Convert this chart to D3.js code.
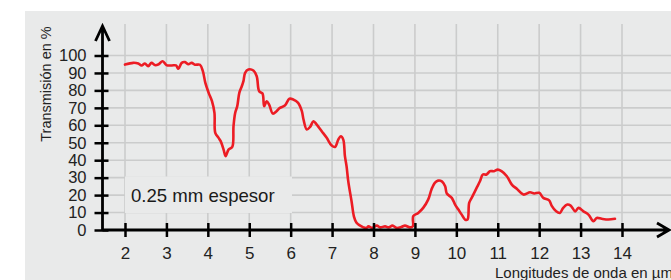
<!DOCTYPE html>
<html>
<head>
<meta charset="utf-8">
<script src="https://cdn.jsdelivr.net/npm/d3@7.9.0/dist/d3.min.js"></script>
<style>
  body { margin: 0; background: #fff; }
  svg { display: block; font-family: "Liberation Sans", Arial, sans-serif; }
</style>
</head>
<body>
<svg id="chart" width="671" height="280"></svg>
<script>
// wavelength in µm, transmission in %
const wavelength = [
  2.0, 2.2, 2.32, 2.4, 2.48, 2.56, 2.64, 2.72, 2.8, 2.91, 3.0, 3.13, 3.23, 3.29, 3.37, 3.45, 3.53, 3.61, 3.69, 3.81,
  3.88, 3.94, 4.02, 4.1, 4.16, 4.18, 4.26, 4.31, 4.38, 4.43, 4.5, 4.59, 4.62, 4.66, 4.71, 4.76, 4.82, 4.86, 4.9, 4.98,
  5.1, 5.18, 5.24, 5.32, 5.36, 5.42, 5.48, 5.57, 5.66, 5.74, 5.86, 5.97, 6.06, 6.18, 6.27, 6.31, 6.39, 6.47, 6.55, 6.63,
  6.75, 6.87, 6.99, 7.07, 7.15, 7.21, 7.27, 7.31, 7.35, 7.39, 7.47, 7.53, 7.59, 7.64, 7.71, 7.76, 7.83, 7.88, 7.96, 8.08,
  8.16, 8.28, 8.36, 8.46, 8.56, 8.68, 8.76, 8.88, 8.95, 8.96, 9.08, 9.2, 9.32, 9.4, 9.48, 9.56, 9.65, 9.73, 9.77, 9.89,
  9.97, 10.05, 10.13, 10.21, 10.27, 10.31, 10.37, 10.49, 10.57, 10.64, 10.73, 10.81, 10.91, 11.0, 11.09, 11.22, 11.34, 11.46, 11.62, 11.78,
  11.88, 12.0, 12.1, 12.24, 12.3, 12.41, 12.5, 12.58, 12.68, 12.76, 12.87, 12.95, 13.07, 13.19, 13.31, 13.39, 13.51, 13.67, 13.83
];
const transmission = [
  94.8, 95.8, 95.4, 94.3, 95.4, 93.9, 95.8, 94.5, 94.8, 96.7, 94.5, 94.3, 94.3, 92.4, 95.8, 96.2, 95.0, 95.8, 94.7, 94.7,
  91.0, 84.3, 78.6, 73.8, 67.1, 55.7, 52.8, 50.9, 46.1, 42.3, 46.1, 47.6, 59.5, 67.1, 70.9, 78.6, 82.4, 85.3, 90.1, 92.0,
  91.4, 88.1, 79.5, 78.2, 70.9, 73.8, 71.9, 66.7, 68.1, 70.0, 71.3, 75.2, 74.8, 72.9, 68.1, 63.3, 57.6, 59.1, 62.3, 60.4,
  56.6, 52.8, 48.4, 47.6, 51.8, 53.7, 51.8, 42.3, 36.5, 28.0, 16.5, 7.5, 4.1, 3.1, 2.1, 1.5, 1.2, 2.1, 1.2, 2.5,
  1.5, 2.1, 1.5, 2.5, 1.2, 1.8, 2.5, 1.5, 2.1, 7.9, 9.8, 12.7, 17.4, 23.2, 27.0, 28.3, 27.9, 25.1, 20.9, 18.4,
  14.6, 11.7, 8.8, 6.0, 6.0, 15.5, 18.4, 24.1, 27.9, 31.8, 31.8, 33.7, 33.7, 34.6, 33.7, 30.8, 26.0, 23.6, 20.3, 21.6,
  20.9, 21.3, 18.4, 17.0, 14.0, 10.7, 9.8, 12.7, 14.6, 14.0, 10.7, 12.7, 10.7, 8.8, 5.0, 6.9, 6.4, 6.0, 6.4
];
const xTicks = [2, 3, 4, 5, 6, 7, 8, 9, 10, 11, 12, 13, 14];
const yTicks = [0, 10, 20, 30, 40, 50, 60, 70, 80, 90, 100];
const yTitle = 'Transmisión en %';
const xTitle = 'Longitudes de onda en µm';
const sampleLabel = '0.25 mm espesor';

const width = 671, height = 280;
const svg = d3.select('#chart');

const x = d3.scaleLinear().domain([2, 14]).range([125, 622]);
const y = d3.scaleLinear().domain([0, 100]).range([230, 55.5]);
const axisX = 102.5;     // pixel position of the vertical axis
const gridTop = 24;

// panel background
svg.append('rect')
  .attr('x', 25).attr('y', 11)
  .attr('width', width - 25).attr('height', height - 11)
  .attr('fill', '#e9eaea');

// grid
const grid = svg.append('g').attr('stroke', '#cbcccc').attr('stroke-width', 1.6);
grid.selectAll('line.v').data(xTicks).join('line')
  .attr('class', 'v')
  .attr('x1', d => x(d)).attr('x2', d => x(d))
  .attr('y1', gridTop).attr('y2', y(0));
grid.selectAll('line.h').data(yTicks).join('line')
  .attr('class', 'h')
  .attr('x1', axisX).attr('x2', width)
  .attr('y1', d => y(d)).attr('y2', d => y(d));

// label box covering the grid
svg.append('rect')
  .attr('x', 125).attr('y', 176.5)
  .attr('width', 167).attr('height', 36.5)
  .attr('fill', '#e9eaea');
svg.append('text')
  .attr('x', 131).attr('y', 201.5)
  .attr('font-size', 18.6).attr('fill', '#1a1a1a')
  .text(sampleLabel);

// data line
const points = wavelength.map((w, i) => [w, transmission[i]]);
svg.append('path')
  .datum(points)
  .attr('fill', 'none')
  .attr('stroke', '#ec1c24')
  .attr('stroke-width', 2.6)
  .attr('stroke-linejoin', 'round')
  .attr('stroke-linecap', 'round')
  .attr('d', d3.line().curve(d3.curveCatmullRom.alpha(0.5)).x(d => x(d[0])).y(d => y(d[1])));

// y axis
const yAxis = svg.append('g')
  .attr('transform', `translate(${axisX},0)`)
  .call(d3.axisLeft(y).tickValues(yTicks).tickSize(8).tickPadding(7));
yAxis.select('.domain').remove();
yAxis.selectAll('.tick line')
  .attr('x1', 6).attr('x2', -8)
  .attr('stroke', '#000').attr('stroke-width', 2.5);
yAxis.selectAll('.tick text')
  .attr('x', -16)
  .attr('font-size', 16.5).attr('fill', '#222')
  .attr('font-family', '"Liberation Sans", Arial, sans-serif');

// x axis
const xAxis = svg.append('g')
  .attr('transform', `translate(0,${y(0)})`)
  .call(d3.axisBottom(x).tickValues(xTicks).tickSize(7).tickPadding(10));
xAxis.select('.domain').remove();
xAxis.selectAll('.tick line')
  .attr('y1', -7).attr('y2', 7)
  .attr('stroke', '#000').attr('stroke-width', 2.5);
xAxis.selectAll('.tick text')
  .attr('font-size', 17).attr('fill', '#222')
  .attr('font-family', '"Liberation Sans", Arial, sans-serif');

// axis lines with open arrow heads
const axes = svg.append('g')
  .attr('fill', 'none').attr('stroke', '#000')
  .attr('stroke-width', 2.8).attr('stroke-linejoin', 'miter');
axes.append('path')
  .attr('d', `M${axisX},${y(0)}V26 M${axisX - 7},41 L${axisX},26 L${axisX + 7},41`);
axes.append('path')
  .attr('d', `M${axisX},${y(0)}H669 M657,${y(0) - 7} L669,${y(0)} L657,${y(0) + 7}`);

// titles
svg.append('text')
  .attr('transform', 'translate(51,84) rotate(-90)')
  .attr('text-anchor', 'middle')
  .attr('font-size', 14.5).attr('fill', '#222')
  .text(yTitle);
svg.append('text')
  .attr('x', 495).attr('y', 278)
  .attr('font-size', 15).attr('fill', '#222')
  .text(xTitle);
</script>
</body>
</html>
